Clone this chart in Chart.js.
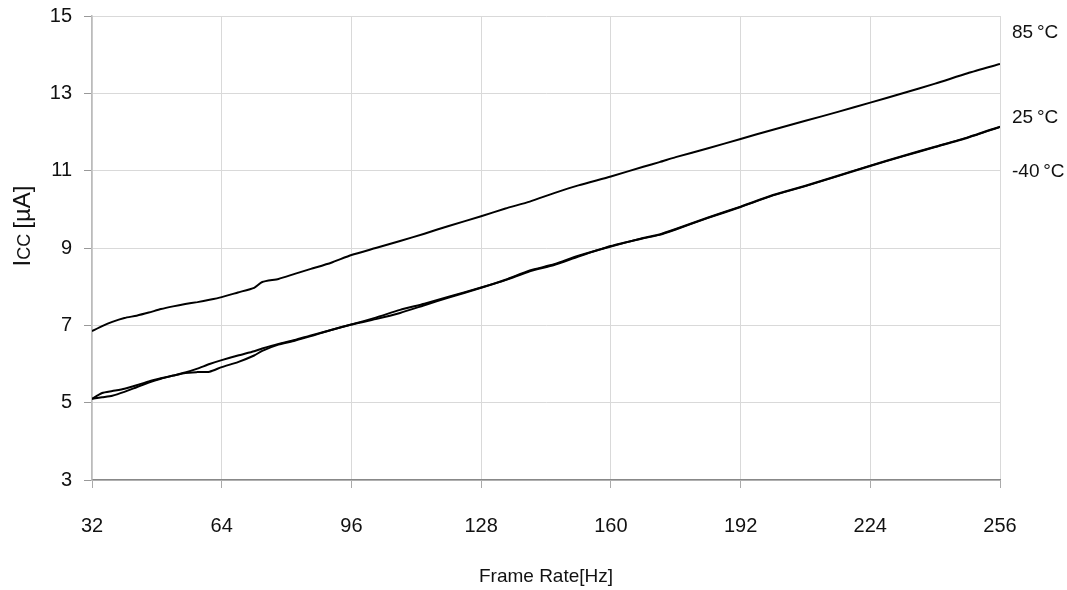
<!DOCTYPE html>
<html>
<head>
<meta charset="utf-8">
<script src="https://cdn.jsdelivr.net/npm/chart.js@4"></script>
<style>
  html, body { margin: 0; padding: 0; background: #fff; }
  #wrap { width: 1067px; height: 590px; }
</style>
</head>
<body>
<div id="wrap"><canvas id="myChart"></canvas></div>
<script>
const FONT = "'Liberation Sans Narrow', 'Liberation Sans', Arial, sans-serif";

const FREQS = [32, 34.5, 37, 40, 43, 46, 49, 52, 55, 58, 61, 64, 68, 72, 74, 78, 82, 86, 91, 96,
    102, 108, 114, 120, 128, 134, 140, 146, 152, 160, 168, 172, 176, 184, 192, 200, 208, 216, 224,
    232, 240, 248, 256];

const ICC_85 = [6.85, 6.98, 7.09, 7.19, 7.25, 7.33, 7.42, 7.49, 7.55, 7.60, 7.66, 7.73, 7.85, 7.97,
    8.12, 8.20, 8.33, 8.46, 8.62, 8.82, 9.00, 9.18, 9.37, 9.57, 9.82, 10.02, 10.20, 10.42, 10.62,
    10.85, 11.10, 11.22, 11.35, 11.58, 11.82, 12.06, 12.29, 12.52, 12.76, 13.00, 13.25, 13.52, 13.76];

const ICC_25 = [5.10, 5.14, 5.18, 5.28, 5.40, 5.52, 5.62, 5.70, 5.78, 5.88, 6.00, 6.10, 6.22, 6.33,
    6.40, 6.52, 6.62, 6.74, 6.88, 7.02, 7.20, 7.40, 7.56, 7.74, 7.98, 8.17, 8.40, 8.56, 8.78,
    9.05, 9.25, 9.34, 9.48, 9.78, 10.06, 10.36, 10.60, 10.86, 11.12, 11.37, 11.61, 11.85, 12.13];

const ICC_M40 = [5.10, 5.25, 5.30, 5.36, 5.45, 5.55, 5.63, 5.70, 5.77, 5.79, 5.80, 5.92, 6.05, 6.22,
    6.34, 6.50, 6.60, 6.72, 6.88, 7.02, 7.16, 7.32, 7.52, 7.72, 7.97, 8.18, 8.42, 8.58, 8.80,
    9.04, 9.26, 9.35, 9.49, 9.79, 10.07, 10.37, 10.61, 10.87, 11.13, 11.38, 11.62, 11.86, 12.14];

const SERIES = [
    { label: '85\u2009°C', data: ICC_85, labelAt: 14.56 },
    { label: '25\u2009°C', data: ICC_25, labelAt: 12.36 },
    { label: '-40\u2009°C', data: ICC_M40, labelAt: 10.97 }
];

/** toPoints: pairs frequencies with one series of values */
function toPoints(values) {
    return FREQS.map((f, i) => ({ x: f, y: values[i] }));
}

// draws the temperature labels right of the plot and the y axis title
const sideText = {
    id: 'sideText',
    afterDraw(chart) {
        const { ctx, chartArea, scales } = chart;
        ctx.save();
        ctx.fillStyle = '#111';
        ctx.font = `19px ${FONT}`;
        ctx.textAlign = 'left';
        ctx.textBaseline = 'middle';
        for (let s of SERIES) {
            ctx.fillText(s.label, chartArea.right + 12, scales.y.getPixelForValue(s.labelAt));
        }

        // Icc [µA] with small capitals, rotated
        ctx.translate(22, 226);
        ctx.rotate(-Math.PI / 2);
        const parts = [
            { t: 'I', f: '24px Arial, "Liberation Sans", sans-serif' },
            { t: 'CC ', f: '18px Arial, "Liberation Sans", sans-serif' },
            { t: '[µA]', f: '24px Arial, "Liberation Sans", sans-serif' }
        ];
        let total = 0;
        for (let p of parts) { ctx.font = p.f; total += ctx.measureText(p.t).width; }
        let x = -total / 2;
        ctx.textBaseline = 'alphabetic';
        for (let p of parts) {
            ctx.font = p.f;
            ctx.fillText(p.t, x, 8);
            x += ctx.measureText(p.t).width;
        }
        ctx.restore();
    }
};

const myChart = new Chart(document.getElementById('myChart'), {
    type: 'line',
    data: {
        datasets: SERIES.map(s => ({
            label: s.label,
            data: toPoints(s.data),
            borderColor: '#000',
            borderWidth: 2,
            pointRadius: 0,
            tension: 0.2,
            fill: false
        }))
    },
    options: {
        responsive: true,
        maintainAspectRatio: false,
        animation: false,
        layout: { padding: { top: 16, right: 67, left: 0, bottom: 0 } },
        plugins: {
            legend: { display: false },
            tooltip: { enabled: false }
        },
        scales: {
            x: {
                type: 'linear',
                min: 32,
                max: 256,
                afterFit: (s) => { s.height = 110; s.paddingLeft = 0; s.paddingRight = 0; },
                ticks: {
                    stepSize: 32,
                    padding: 26,
                    color: '#111',
                    font: { family: FONT, size: 20 }
                },
                grid: { color: '#d9d9d9', tickColor: '#aaa', tickLength: 8 },
                border: { color: '#888', width: 1.5 },
                title: {
                    display: true,
                    text: 'Frame Rate[Hz]',
                    color: '#111',
                    font: { family: FONT, size: 19 },
                    padding: { top: 0, bottom: 2 }
                }
            },
            y: {
                min: 3,
                max: 15,
                afterFit: (s) => { s.width = 92; s.paddingTop = 0; s.paddingBottom = 0; },
                ticks: {
                    stepSize: 2,
                    padding: 12,
                    color: '#111',
                    font: { family: FONT, size: 20 }
                },
                grid: { color: '#d9d9d9', tickColor: '#999', tickLength: 8 },
                border: { color: '#bbb', width: 1.5 }
            }
        }
    },
    plugins: [sideText]
});
</script>
</body>
</html>
